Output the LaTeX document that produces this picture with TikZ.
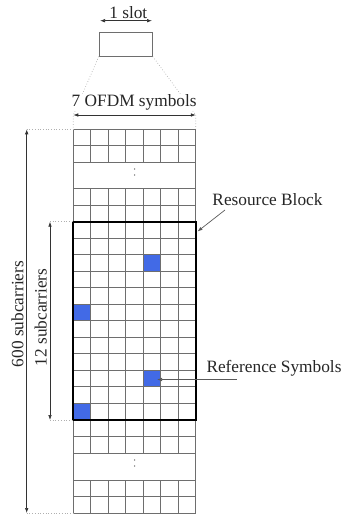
\documentclass[tikz,border=0pt]{standalone}
\usepackage{fontspec}
\setmainfont{Liberation Serif}
\usetikzlibrary{arrows.meta}
\definecolor{rsblue}{RGB}{66,106,230}
\definecolor{gridgray}{RGB}{110,110,110}
\definecolor{dotgray}{RGB}{175,175,175}
\begin{document}
\begin{tikzpicture}[x=1pt,y=-1pt,
  lbl/.style={font=\fontsize{17.3}{20}\selectfont, text=black!85, inner sep=0pt, anchor=base},
  gridline/.style={draw=gridgray, line width=1pt},
  dimarrow/.style={draw=black!80, line width=0.7pt, {Latex[length=5pt,width=3.6pt]}-{Latex[length=5pt,width=3.6pt]}},
  pointer/.style={draw=black!65, line width=0.7pt, -{Latex[length=5pt,width=3.6pt]}},
  guide/.style={draw=dotgray, line width=0.7pt, dotted},
  rbbox/.style={draw=black, line width=2.3pt},
  refcell/.style={fill=rsblue}]
\useasboundingbox (0,0) rectangle (343,514);

% key coordinates
\def\xL{73.3}
\def\xR{195.8}
\def\cw{17.5}
\def\rh{16.525}
\coordinate (gTL) at (\xL,129.3);
\coordinate (gTR) at (\xR,129.3);
\coordinate (gBL) at (\xL,513);
\coordinate (rbTL) at (\xL,221.7);
\coordinate (rbBR) at (\xR,420);
\coordinate (rbBL) at (\xL,420);

% slot box and its label
\node[draw=gridgray, line width=1pt, minimum width=53pt, minimum height=23.3pt, inner sep=0pt] (slot) at (125.8,44.35) {};
\node[lbl] (slotlbl) at (128.3,18.3) {1 slot};
\coordinate (sa1) at (100,20.7);
\coordinate (sa2) at (152,20.7);
\draw[dimarrow] (sa1) -- (sa2);

% OFDM symbols dimension
\coordinate (oa1) at (\xL,115);
\coordinate (oa2) at (\xR,115);
\draw[guide] (slot.south west) -- (oa1) -- (gTL);
\draw[guide] (slot.south east) -- (oa2) -- (gTR);
\node[lbl, fill=white, inner ysep=1pt] (ofdmlbl) at (134.2,106.7) {7 OFDM symbols};
\draw[dimarrow] (oa1) -- (oa2);

% reference cells
\foreach \c/\r in {4/2, 0/5, 4/9, 0/11}{
  \fill[refcell] (\xL+\c*\cw, 221.7+\r*\rh) rectangle ++(\cw,\rh);
}
\coordinate (refcell) at (157,379.5);

% grid: horizontal lines
\foreach \y in {129.3,145.8,162.3, 188.65,205.2, 436.5,453, 480,496.5,513}{
  \draw[gridline] (\xL,\y) -- (\xR,\y);
}
\foreach \r in {1,...,11}{
  \draw[gridline] (\xL,221.7+\r*\rh) -- (\xR,221.7+\r*\rh);
}
% grid: vertical lines
\foreach \ya/\yb in {129.3/162.3, 188.65/453, 480/513}{
  \foreach \k in {1,...,6}{
    \draw[gridline] (\xL+\k*\cw,\ya) -- (\xL+\k*\cw,\yb);
  }
}
\draw[gridline] (gTL) -- (gBL);
\draw[gridline] (gTR) -- (\xR,513);

% ellipsis dots
\foreach \y in {169,175, 460,466}{
  \fill[gridgray] (134.6,\y) circle (0.8pt);
}

% resource block
\draw[rbbox] (rbTL) rectangle (rbBR);

% 600 subcarriers
\coordinate (a6t) at (26.7,129.3);
\coordinate (a6b) at (26.7,513);
\draw[guide] (a6t) -- (gTL);
\draw[guide] (a6b) -- (gBL);
\draw[dimarrow] (a6t) -- (a6b);
\node[lbl, rotate=90] (lbl600) at (23.3,314) {600 subcarriers};

% 12 subcarriers
\coordinate (a12t) at (50,221.7);
\coordinate (a12b) at (50,420);
\draw[guide] (a12t) -- (rbTL);
\draw[guide] (a12b) -- (rbBL);
\draw[dimarrow] (a12t) -- (a12b);
\node[lbl, rotate=90] (lbl12) at (46.5,317.5) {12 subcarriers};

% labels with pointers
\node[lbl] (rblbl) at (267.5,205) {Resource Block};
\coordinate (rbp) at (225,210);
\coordinate (rbtip) at (197.5,231.5);
\draw[pointer] (rbp) -- (rbtip);

\node[lbl] (reflbl) at (274,372.7) {Reference Symbols};
\coordinate (refp) at (236.7,379.5);
\draw[pointer] (refp) -- (refcell);
\end{tikzpicture}
\end{document}
